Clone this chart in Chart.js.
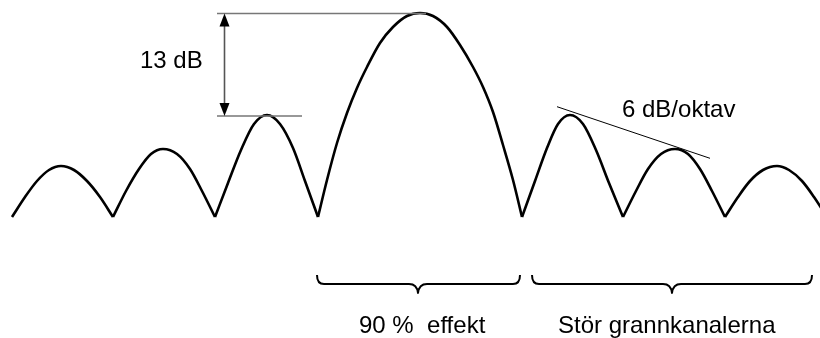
<!DOCTYPE html>
<html>
<head>
<meta charset="utf-8">
<script src="https://cdn.jsdelivr.net/npm/chart.js@4/dist/chart.umd.min.js"></script>
<style>
  html, body { margin: 0; padding: 0; background: #ffffff; }
  canvas { display: block; }
</style>
</head>
<body>
<canvas id="c" width="820" height="338"></canvas>
<script>
// Spectrum lobes: x position (frequency axis, px-like units) and level above the null baseline
const lobe1X = [12, 25, 37, 49, 61, 74, 87, 100, 113];
const lobe1Y = [0, 20, 36, 47, 51, 47, 36, 20, 0];
const lobe2X = [113, 126, 139, 151, 163, 177, 190, 202, 215];
const lobe2Y = [0, 26, 48, 63, 68, 63, 48, 26, 0];
const lobe3X = [215, 228, 241, 254, 267, 280, 293, 305, 318];
const lobe3Y = [0, 34, 67, 93, 102, 93, 69, 36, 0];
const mainX = [318, 327, 337, 347, 357, 367, 380, 393, 407, 420, 433, 447, 460, 473, 483, 493, 503, 513, 522];
const mainY = [0, 37, 74, 104, 129, 150, 174, 190, 201, 204, 201, 190, 172, 150, 130, 105, 72, 37, 0];
const lobe4X = [522, 535, 547, 558, 570, 583, 596, 609, 623];
const lobe4Y = [0, 36, 69, 93, 102, 93, 67, 34, 0];
const lobe5X = [623, 636, 648, 661, 675, 688, 700, 712, 725];
const lobe5Y = [0, 26, 48, 63, 68, 63, 48, 26, 0];
const lobe6X = [725, 738, 750, 763, 777, 789, 802, 814, 827];
const lobe6Y = [0, 20, 36, 47, 51, 47, 36, 20, 0];

// Annotation values
const labels = ["13 dB", "6 dB/oktav", "90 %  effekt", "Stör grannkanalerna"];
const mainPeakLevel = 204;
const sidePeakLevel = 101;
const slopeLineX = [557, 710];
const slopeLineY = [110.3, 58.7];
const bracket1X = [317, 418, 520];
const bracket2X = [532, 672, 812];

const lobes = [
  [lobe1X, lobe1Y], [lobe2X, lobe2Y], [lobe3X, lobe3Y], [mainX, mainY],
  [lobe4X, lobe4Y], [lobe5X, lobe5Y], [lobe6X, lobe6Y]
];

const datasets = lobes.map(([xs, ys]) => ({
  data: xs.map((x, i) => ({ x: x, y: ys[i] })),
  showLine: true,
  borderColor: '#000000',
  borderWidth: 2.6,
  pointRadius: 0,
  cubicInterpolationMode: 'monotone',
  fill: false
}));

const FONT = "24px 'Liberation Sans', Arial, Helvetica, sans-serif";

const annotations = {
  id: 'annotations',
  afterDatasetsDraw(chart) {
    const ctx = chart.ctx;
    const X = v => chart.scales.x.getPixelForValue(v);
    const Y = v => chart.scales.y.getPixelForValue(v);
    ctx.save();

    // reference lines for 13 dB
    ctx.strokeStyle = '#777777';
    ctx.lineWidth = 1.6;
    ctx.beginPath();
    ctx.moveTo(X(217), Y(mainPeakLevel) + 0.5);
    ctx.lineTo(X(426), Y(mainPeakLevel) + 0.5);
    ctx.moveTo(X(217), Y(sidePeakLevel));
    ctx.lineTo(X(302), Y(sidePeakLevel));
    ctx.stroke();

    // double-headed arrow
    const ax = X(224.5);
    const yTop = Y(mainPeakLevel) + 0.5;
    const yBot = Y(sidePeakLevel);
    ctx.strokeStyle = '#555555';
    ctx.lineWidth = 1.6;
    ctx.beginPath();
    ctx.moveTo(ax, yTop + 10);
    ctx.lineTo(ax, yBot - 10);
    ctx.stroke();
    ctx.fillStyle = '#000000';
    ctx.beginPath();
    ctx.moveTo(ax, yTop);
    ctx.lineTo(ax - 5, yTop + 13);
    ctx.lineTo(ax + 5, yTop + 13);
    ctx.closePath();
    ctx.fill();
    ctx.beginPath();
    ctx.moveTo(ax, yBot);
    ctx.lineTo(ax - 5, yBot - 13);
    ctx.lineTo(ax + 5, yBot - 13);
    ctx.closePath();
    ctx.fill();

    // 6 dB/oktav slope line
    ctx.strokeStyle = '#000000';
    ctx.lineWidth = 1;
    ctx.beginPath();
    ctx.moveTo(X(slopeLineX[0]), Y(slopeLineY[0]));
    ctx.lineTo(X(slopeLineX[1]), Y(slopeLineY[1]));
    ctx.stroke();

    // brackets
    function brace(x0, cx, x1) {
      const yt = Y(-58), ym = Y(-67), yb = Y(-76);
      const L = X(x0), C = X(cx), R = X(x1);
      ctx.beginPath();
      ctx.moveTo(L, yt);
      ctx.quadraticCurveTo(L, ym, L + 7, ym);
      ctx.lineTo(C - 9, ym);
      ctx.quadraticCurveTo(C - 1, ym, C, yb);
      ctx.quadraticCurveTo(C + 1, ym, C + 9, ym);
      ctx.lineTo(R - 7, ym);
      ctx.quadraticCurveTo(R, ym, R, yt);
      ctx.stroke();
    }
    ctx.strokeStyle = '#000000';
    ctx.lineWidth = 2;
    ctx.lineJoin = 'round';
    brace(bracket1X[0], bracket1X[1], bracket1X[2]);
    brace(bracket2X[0], bracket2X[1], bracket2X[2]);

    // texts
    ctx.fillStyle = '#000000';
    ctx.font = FONT;
    ctx.textAlign = 'left';
    ctx.textBaseline = 'alphabetic';
    ctx.fillText(labels[0], X(140), Y(149));
    ctx.fillText(labels[1], X(622), Y(100));
    ctx.fillText(labels[2], X(359), Y(-116));
    ctx.fillText(labels[3], X(558), Y(-116));

    ctx.restore();
  }
};

new Chart(document.getElementById('c'), {
  type: 'scatter',
  data: { datasets: datasets },
  options: {
    responsive: false,
    animation: false,
    devicePixelRatio: 1,
    layout: { padding: 0 },
    plugins: { legend: { display: false }, tooltip: { enabled: false } },
    scales: {
      x: { type: 'linear', min: 0, max: 820, display: false },
      y: { type: 'linear', min: -121, max: 217, display: false }
    }
  },
  plugins: [annotations]
});
</script>
</body>
</html>
